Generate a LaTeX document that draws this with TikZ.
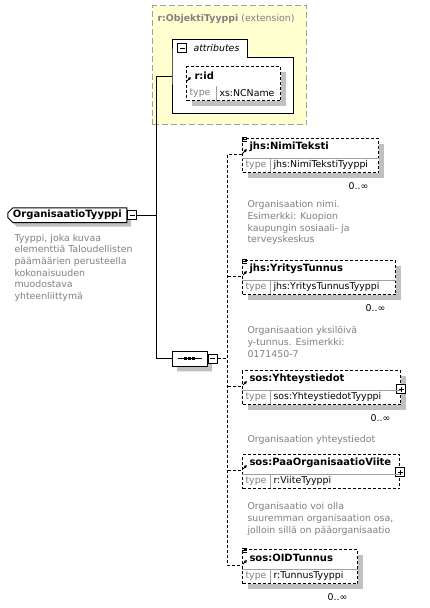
\documentclass[tikz,border=0pt]{standalone}
\usepackage{fontspec}
\setmainfont{DejaVu Sans}
\usetikzlibrary{arrows.meta,positioning,shadows,shapes.misc}
\definecolor{extfill}{HTML}{FFFFD0}
\definecolor{extline}{HTML}{A0A0A0}
\definecolor{textgray}{HTML}{808080}
\definecolor{shadegray}{HTML}{C0C0C0}
\definecolor{rulegray}{HTML}{A0A0A0}
\newcommand{\boldtext}{\fontsize{10}{11.7}\selectfont\bfseries}
\newcommand{\plaintext}{\fontsize{9.4}{11.7}\selectfont}
\tikzset{
        dashline/.style = {dash pattern=on 3pt off 2pt},
        optional/.style = {draw, dashline, fill=white, anchor=north west,
            minimum height=34pt, inner sep=0pt},
        element/.style = {optional,
            drop shadow={shadow xshift=5pt, shadow yshift=-5pt, fill=shadegray, opacity=1}},
        extbox/.style = {draw=extline, dash pattern=on 6pt off 3pt, fill=extfill,
            anchor=north west, inner sep=0pt},
        area/.style = {anchor=north west, inner sep=0pt},
        typebox/.style = {draw, fill=white, anchor=north west, inner sep=0pt,
            chamfered rectangle, chamfered rectangle corners={north west,south west},
            chamfered rectangle xsep=2.5pt, chamfered rectangle ysep=2.5pt,
            minimum width=119pt, minimum height=14pt, font=\boldtext,
            drop shadow={shadow xshift=4pt, shadow yshift=-4pt, fill=shadegray, opacity=1}},
        seqbox/.style = {draw, fill=white, anchor=north west, inner sep=0pt,
            chamfered rectangle, chamfered rectangle xsep=5pt, chamfered rectangle ysep=5pt,
            minimum width=35pt, minimum height=15pt,
            drop shadow={shadow xshift=5pt, shadow yshift=-5pt, fill=shadegray, opacity=1}},
        ename/.style = {anchor=west, inner sep=0pt, font=\boldtext},
        ekind/.style = {anchor=west, inner sep=0pt, font=\plaintext, text=textgray},
        etype/.style = {anchor=west, inner sep=0pt, font=\plaintext},
        extlabel/.style = {anchor=west, inner sep=0pt, font=\plaintext, text=textgray},
        rule/.style = {draw=rulegray},
        desc/.style = {anchor=north west, align=left, inner sep=0pt, font=\plaintext, text=textgray},
        occurs/.style = {anchor=east, inner sep=0pt, font=\plaintext},
        link/.style = {draw, dashline},
        wire/.style = {draw},
        minusbox/.style = {draw, fill=white, minimum size=9pt, inner sep=0pt,
            path picture={\draw ([xshift=2pt]path picture bounding box.west)
                -- ([xshift=-2pt]path picture bounding box.east);}},
        plusbox/.style = {draw, fill=white, minimum size=9pt, inner sep=0pt,
            path picture={\draw ([xshift=2pt]path picture bounding box.west)
                -- ([xshift=-2pt]path picture bounding box.east);
                \draw ([yshift=2pt]path picture bounding box.south)
                -- ([yshift=-2pt]path picture bounding box.north);}},
        refmark/.style = {-{Latex[length=3pt,width=3.5pt]}, line width=0.9pt},
        listmark/.style = {line width=0.8pt},
    }

\begin{document}
\begin{tikzpicture}[x=1pt, y=-1pt, line width=1pt]
    \useasboundingbox (0,0) rectangle (429,608);

    % base type with its attributes
    \node[extbox, minimum width=154pt, minimum height=119pt] (ext) at (152,5) {};
    \node[extlabel] (extname) at ([shift={(5,14)}]ext.north west)
        {\textbf{r:ObjektiTyyppi} (extension)};
    \node[area, minimum width=120pt, minimum height=55pt] (attrs) at (172,57) {};
    \node[area, minimum width=74pt, minimum height=18pt] (attrtab) at (172,39) {};
    \draw[fill=white] (attrs.north west) |- (attrtab.north east) |- (attrs.north east)
        |- (attrs.south west) -- cycle;
    \node[minusbox] (attrminus) at ([shift={(10,9)}]attrtab.north west) {};
    \node[extlabel, text=black, font=\plaintext\itshape, right=6pt of attrminus] (attrname) {attributes};
    \node[element, minimum width=94pt] (rid) at (186,66) {};
    \node[ename] (ridname) at ([shift={(8,10)}]rid.north west) {r:id};
    \node[ekind] (ridkind) at ([shift={(3,27)}]rid.north west) {type};
    \node[etype] (ridtype) at ([shift={(33,27)}]rid.north west) {xs:NCName};
    \draw[rule] ([xshift=30pt,yshift=-20pt]rid.north west) -- ([xshift=30pt]rid.south west);

    % the complex type
    \node[typebox] (org) at (10,210) {OrganisaatioTyyppi};
    \node[minusbox, right=0pt of org] (orgminus) {};
    \node[desc, below=13pt of org.south west, anchor=north west, xshift=4pt] (orgdesc)
        {Tyyppi, joka kuvaa\\elementtiä Taloudellisten\\päämäärien perusteella\\kokonaisuuden\\muodostava\\yhteenliittymä};

    \node[seqbox] (seq) at (172,351) {};
    \draw ([xshift=6pt]seq.west) -- ([xshift=-6pt]seq.east);
    \foreach \d in {-4,0,4}
        \fill ([shift={(\d-1.3,-1.3)}]seq.center) rectangle ++(2.6,2.6);
    \node[minusbox, right=0pt of seq] (seqminus) {};

    % sequence members
    \node[element, minimum width=136pt] (nimi) at (242,138) {};
    \node[ename] (niminame) at ([shift={(7,9)}]nimi.north west) {jhs:NimiTeksti};
    \node[ekind] (nimikind) at ([shift={(3,27)}]nimi.north west) {type};
    \node[etype] (nimitype) at ([shift={(31,27)}]nimi.north west) {jhs:NimiTekstiTyyppi};
    \node[occurs] (nimiocc) at ([shift={(-10,13)}]nimi.south east) {0..∞};
    \node[desc, below=27pt of nimi.south west, anchor=north west, xshift=5pt] (nimidesc)
        {Organisaation nimi.\\Esimerkki: Kuopion\\kaupungin sosiaali- ja\\terveyskeskus};

    \node[element, minimum width=153pt] (yritys) at (242,260) {};
    \node[ename] (yritysname) at ([shift={(7,9)}]yritys.north west) {jhs:YritysTunnus};
    \node[ekind] (yrityskind) at ([shift={(3,27)}]yritys.north west) {type};
    \node[etype] (yritystype) at ([shift={(31,27)}]yritys.north west) {jhs:YritysTunnusTyyppi};
    \node[occurs] (yritysocc) at ([shift={(-10,13)}]yritys.south east) {0..∞};
    \node[desc, below=31pt of yritys.south west, anchor=north west, xshift=5pt] (yritysdesc)
        {Organisaation yksilöivä\\y-tunnus. Esimerkki:\\0171450-7};

    \node[element, minimum width=158pt] (yhteys) at (242,370) {};
    \node[ename] (yhteysname) at ([shift={(7,9)}]yhteys.north west) {sos:Yhteystiedot};
    \node[ekind] (yhteyskind) at ([shift={(3,27)}]yhteys.north west) {type};
    \node[etype] (yhteystype) at ([shift={(31,27)}]yhteys.north west) {sos:YhteystiedotTyyppi};
    \node[plusbox] (yhteysplus) at ([yshift=-19pt]yhteys.north east) {};
    \node[occurs] (yhteysocc) at ([shift={(-10,13)}]yhteys.south east) {0..∞};
    \node[desc, below=30pt of yhteys.south west, anchor=north west, xshift=5pt] (yhteysdesc)
        {Organisaation yhteystiedot};

    \node[optional, minimum width=157pt] (paa) at (242,454) {};
    \node[ename] (paaname) at ([shift={(7,9)}]paa.north west) {sos:PaaOrganisaatioViite};
    \node[ekind] (paakind) at ([shift={(3,27)}]paa.north west) {type};
    \node[etype] (paatype) at ([shift={(31,27)}]paa.north west) {r:ViiteTyyppi};
    \node[plusbox] (paaplus) at ([yshift=-18pt]paa.north east) {};
    \node[desc, below=13pt of paa.south west, anchor=north west, xshift=5pt] (paadesc)
        {Organisaatio voi olla\\suuremman organisaation osa,\\jolloin sillä on pääorganisaatio};

    \node[element, minimum width=115pt] (oid) at (242,549) {};
    \node[ename] (oidname) at ([shift={(7,9)}]oid.north west) {sos:OIDTunnus};
    \node[ekind] (oidkind) at ([shift={(3,27)}]oid.north west) {type};
    \node[etype] (oidtype) at ([shift={(31,27)}]oid.north west) {r:TunnusTyyppi};
    \node[occurs] (oidocc) at ([shift={(-10,13)}]oid.south east) {0..∞};

    \foreach \e in {nimi,yritys,yhteys,paa,oid} {
        \draw[rule] ([yshift=-20pt]\e.north west) -- ([yshift=-20pt]\e.north east);
        \draw[rule] ([xshift=28pt,yshift=-20pt]\e.north west) -- ([xshift=28pt,yshift=1pt]\e.south west);
        \coordinate (\e-in) at ([yshift=-16pt]\e.north west);
    }
    \foreach \e in {rid,nimi,yritys,yhteys,paa,oid}
        \draw[refmark] ([shift={(1,15)}]\e.north west) -- ++(4,-4);
    \foreach \e in {nimi,yritys,oid}
        \draw[listmark] ([shift={(0,-1)}]\e.north west) -- ++(5,0) ++(-5,2) -- ++(5,0) ++(-5,2) -- ++(5,0);

    % connectors
    \coordinate (trunk) at ([xshift=19pt]orgminus.east);
    \coordinate (attrs-in) at ([yshift=-19pt]attrs.north west);
    \coordinate (rail) at ([xshift=10pt]seqminus.east);
    \draw[wire] (orgminus.east) -- (trunk);
    \draw[wire] (attrs-in) -| (trunk) |- (seq.west);
    \draw[link] (seqminus.east) -- (rail);
    \draw[link] (nimi-in) -| (rail) |- (oid-in);
    \foreach \e in {yritys,yhteys,paa}
        \draw[link] (rail |- \e-in) -- (\e-in);
\end{tikzpicture}
\end{document}
